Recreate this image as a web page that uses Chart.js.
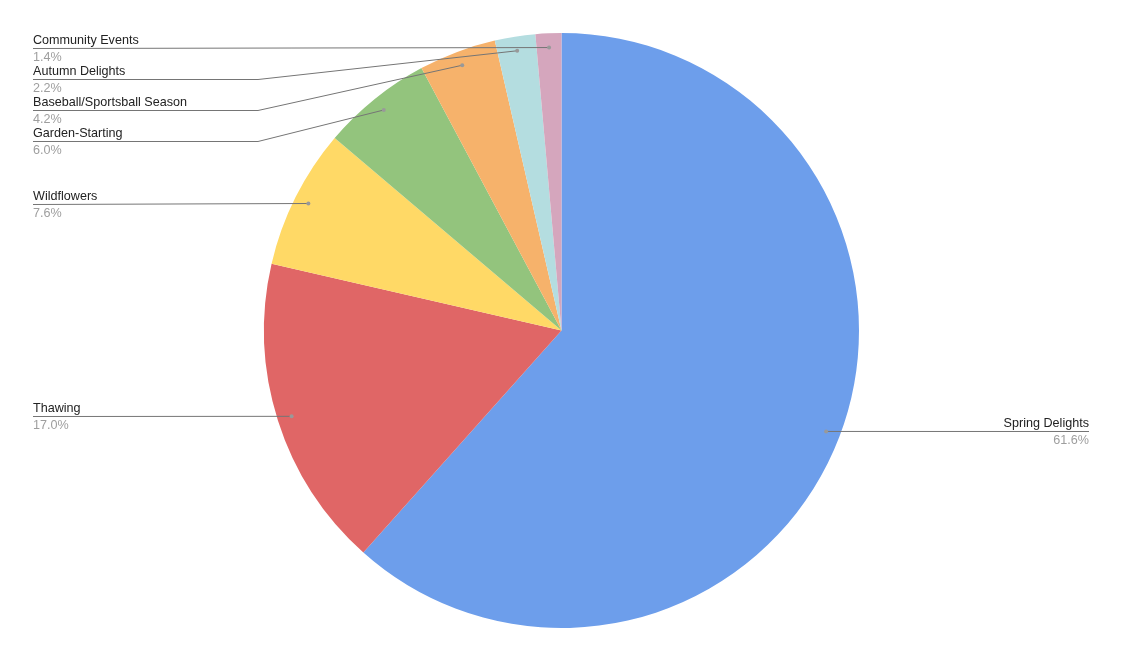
<!DOCTYPE html>
<html>
<head>
<meta charset="utf-8">
<script src="https://cdn.jsdelivr.net/npm/chart.js@4"></script>
<style>
  html, body { margin: 0; padding: 0; background: #fff; }
  #wrap { width: 1123px; height: 661px; }
</style>
</head>
<body>
<div id="wrap"><canvas id="pieChart" width="1123" height="661"></canvas></div>
<script>
const labels = ['Spring Delights', 'Thawing', 'Wildflowers', 'Garden-Starting', 'Baseball/Sportsball Season', 'Autumn Delights', 'Community Events'];
const values = [61.6, 17.0, 7.6, 6.0, 4.2, 2.2, 1.4];
const colors = ['#6d9eeb', '#e06666', '#ffd966', '#93c47d', '#f6b26b', '#b4dde0', '#d5a6bd'];

const FONT = "'Liberation Sans', Arial, sans-serif";

// leader lines + labels, roughly like the sheets pie labels
const sideLabels = {
  id: 'sideLabels',
  afterDraw(chart) {
    const ctx = chart.ctx;
    const meta = chart.getDatasetMeta(0);
    const total = values.reduce((a, b) => a + b, 0);
    const leftX = 33, elbowX = 258, rightX = 1089, gap = 31;
    const items = meta.data.map((arc, i) => {
      const p = arc.getProps(['x', 'y', 'startAngle', 'endAngle', 'outerRadius'], true);
      const mid = (p.startAngle + p.endAngle) / 2;
      const r = p.outerRadius * 0.952;
      return {
        i,
        px: p.x + Math.cos(mid) * r,
        py: p.y + Math.sin(mid) * r,
        left: Math.cos(mid) < 0,
      };
    });

    const left = items.filter((d) => d.left).sort((a, b) => a.py - b.py);
    const right = items.filter((d) => !d.left).sort((a, b) => a.py - b.py);
    let prev = -Infinity;
    left.forEach((d) => { d.ly = Math.max(Math.round(d.py), prev + gap); prev = d.ly; });
    prev = -Infinity;
    right.forEach((d) => { d.ly = Math.max(Math.round(d.py), prev + gap); prev = d.ly; });

    ctx.save();
    items.forEach((d) => {
      ctx.beginPath();
      ctx.strokeStyle = '#757575';
      ctx.lineWidth = 1;
      const ly = d.ly + 0.5;
      if (d.left) {
        ctx.moveTo(leftX, ly);
        if (Math.abs(d.ly - d.py) > 2) {
          ctx.lineTo(elbowX, ly);
        }
        ctx.lineTo(d.px, d.py);
      } else {
        ctx.moveTo(rightX, ly);
        ctx.lineTo(d.px, d.py);
      }
      ctx.stroke();

      ctx.beginPath();
      ctx.fillStyle = '#999999';
      ctx.arc(d.px, d.py, 2, 0, Math.PI * 2);
      ctx.fill();

      const pct = (values[d.i] / total * 100).toFixed(1) + '%';
      ctx.font = '12.6px ' + FONT;
      ctx.textAlign = d.left ? 'left' : 'right';
      ctx.textBaseline = 'alphabetic';
      const tx = d.left ? leftX : rightX;
      ctx.fillStyle = '#222222';
      ctx.fillText(labels[d.i], tx, d.ly - 4);
      ctx.fillStyle = '#9e9e9e';
      ctx.fillText(pct, tx, d.ly + 13);
    });
    ctx.restore();
  },
};

const chart = new Chart(document.getElementById('pieChart').getContext('2d'), {
  type: 'pie',
  data: {
    labels: labels,
    datasets: [{
      data: values,
      backgroundColor: colors,
      borderWidth: 0,
    }],
  },
  options: {
    responsive: false,
    animation: false,
    layout: { padding: { top: 33, bottom: 33, left: 0, right: 0 } },
    plugins: {
      legend: { display: false },
      tooltip: { enabled: false },
    },
  },
  plugins: [sideLabels],
});
</script>
</body>
</html>
